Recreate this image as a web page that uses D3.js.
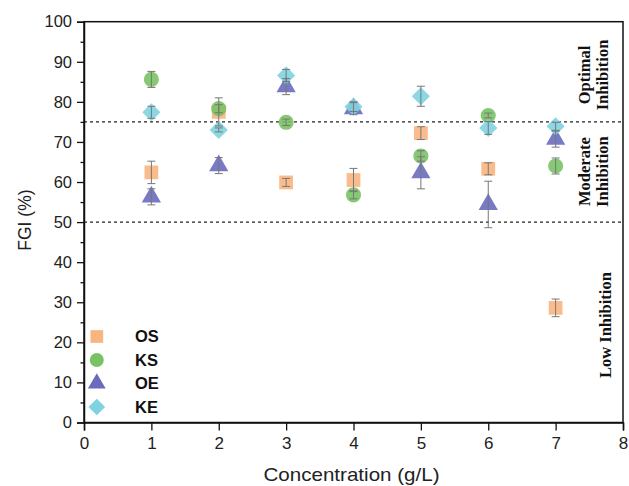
<!DOCTYPE html>
<html>
<head>
<meta charset="utf-8">
<script src="https://cdn.jsdelivr.net/npm/d3@7"></script>
<style>
body { margin: 0; background: #fff; }
svg { display: block; }
</style>
</head>
<body>
<svg id="chart" width="629" height="486"></svg>
<script>
const concentrations = [1, 2, 3, 4, 5, 6, 7];
const seriesNames = ["OS", "KS", "OE", "KE"];
const osValues = [62.4, 77.5, 59.9, 60.5, 72.2, 63.3, 28.6];
const osErrors = [2.8, 3.5, 1.0, 2.9, 1.6, 1.5, 2.2];
const ksValues = [85.6, 78.3, 74.9, 56.8, 66.5, 76.6, 64.0];
const ksErrors = [2.0, 1.0, 0.8, 1.0, 1.3, 0.6, 2.0];
const oeValues = [56.3, 64.1, 83.8, 78.3, 62.3, 54.4, 70.7];
const oeErrors = [2.0, 2.0, 2.0, 1.5, 4.0, 5.8, 2.0];
const keValues = [77.4, 73.0, 86.6, 78.8, 81.4, 73.5, 73.9];
const keErrors = [1.5, 0.5, 1.5, 1.2, 2.5, 1.6, 1.0];
const xTicks = [0, 1, 2, 3, 4, 5, 6, 7, 8];
const yTicks = [0, 10, 20, 30, 40, 50, 60, 70, 80, 90, 100];
const yMinorTicks = [5, 15, 25, 35, 45, 55, 65, 75, 85, 95];
const thresholds = [75, 50];
const zoneLabels = [
  { lines: ["Optimal", "Inhibition"], y: 86.7 },
  { lines: ["Moderate", "Inhibition"], y: 62.6 },
  { lines: ["Low Inhibition"], y: 24.3 }
];

const colors = { OS: "#F9B57F", KS: "#79C264", OE: "#6A6BBE", KE: "#7FD3E0" };
const sizes = { OS: 190, KS: 180, OE: 160, KE: 165 };

// diamond as a square rotated 45°
const diamondType = {
  draw(context, size) {
    const r = Math.sqrt(size / 2);
    context.moveTo(0, -r);
    context.lineTo(r, 0);
    context.lineTo(0, r);
    context.lineTo(-r, 0);
    context.closePath();
  }
};
const symbols = { OS: d3.symbolSquare, KS: d3.symbolCircle, OE: d3.symbolTriangle, KE: diamondType };

const data = {
  OS: { v: osValues, e: osErrors },
  KS: { v: ksValues, e: ksErrors },
  OE: { v: oeValues, e: oeErrors },
  KE: { v: keValues, e: keErrors }
};

const svg = d3.select("#chart");
const L = 84, R = 623, T = 21.7, B = 422.5;
const x = d3.scaleLinear().domain([0, 8]).range([L, R]);
const y = d3.scaleLinear().domain([0, 100]).range([B, T]);

const font = "'Liberation Sans', Arial, sans-serif";

// threshold dashed lines
svg.selectAll("line.thr").data(thresholds).enter().append("line")
  .attr("class", "thr")
  .attr("x1", L).attr("x2", R)
  .attr("y1", d => y(d)).attr("y2", d => y(d))
  .attr("stroke", "#222").attr("stroke-width", 1.4)
  .attr("stroke-dasharray", "3,3");

// markers
seriesNames.forEach(name => {
  const sym = d3.symbol().type(symbols[name]).size(sizes[name]);
  svg.append("g").selectAll("path").data(concentrations).enter().append("path")
    .attr("d", sym)
    .attr("transform", (c, i) => `translate(${x(c)},${y(data[name].v[i])})`)
    .attr("fill", colors[name])
    .attr("fill-opacity", 0.9);
});

// error bars
seriesNames.forEach(name => {
  const g = svg.append("g").attr("stroke", "#777").attr("stroke-width", 1);
  concentrations.forEach((c, i) => {
    const v = data[name].v[i], e = data[name].e[i];
    const cx = x(c);
    g.append("line").attr("x1", cx).attr("x2", cx).attr("y1", y(v - e)).attr("y2", y(v + e));
    [v - e, v + e].forEach(yy => {
      g.append("line").attr("x1", cx - 4).attr("x2", cx + 4).attr("y1", y(yy)).attr("y2", y(yy));
    });
  });
});

// frame
svg.append("rect").attr("x", L).attr("y", T).attr("width", R - L).attr("height", B - T)
  .attr("fill", "none").attr("stroke", "#111").attr("stroke-width", 1.5);

// axes
const xAxis = d3.axisBottom(x).tickValues(xTicks).tickFormat(d3.format("d")).tickSize(8).tickPadding(6);
const gx = svg.append("g").attr("transform", `translate(0,${B})`).call(xAxis);
gx.select(".domain").attr("stroke", "#111").attr("stroke-width", 1.5);
gx.selectAll(".tick line").attr("stroke", "#111").attr("stroke-width", 1.3);
gx.selectAll("text").attr("font-family", font).attr("font-size", 17).attr("fill", "#222");

const yAxis = d3.axisLeft(y).tickValues(yTicks).tickFormat(d3.format("d")).tickSize(7).tickPadding(5);
const gy = svg.append("g").attr("transform", `translate(${L},0)`).call(yAxis);
gy.select(".domain").attr("stroke", "#111").attr("stroke-width", 1.5);
gy.selectAll(".tick line").attr("stroke", "#111").attr("stroke-width", 1.3);
gy.selectAll("text").attr("font-family", font).attr("font-size", 16.5).attr("fill", "#222");

const yMinor = d3.axisLeft(y).tickValues(yMinorTicks).tickFormat("").tickSize(3.5);
const gym = svg.append("g").attr("transform", `translate(${L},0)`).call(yMinor);
gym.select(".domain").remove();
gym.selectAll(".tick line").attr("stroke", "#111").attr("stroke-width", 1.3);

// axis titles
svg.append("text").attr("x", (L + R) / 2 - 2).attr("y", 481)
  .attr("text-anchor", "middle").attr("font-family", font).attr("font-size", 19).attr("fill", "#222")
  .attr("textLength", 176).attr("lengthAdjust", "spacingAndGlyphs")
  .text("Concentration (g/L)");
svg.append("text").attr("transform", `translate(31,${(T + B) / 2 - 2}) rotate(-90)`)
  .attr("text-anchor", "middle").attr("font-family", font).attr("font-size", 17.5).attr("fill", "#222")
  .text("FGI (%)");

// zone labels
zoneLabels.forEach(z => {
  const n = z.lines.length;
  const t = svg.append("text")
    .attr("transform", `translate(${n === 2 ? 590 : 611},${y(z.y)}) rotate(-90)`)
    .attr("text-anchor", "middle")
    .attr("font-family", "'Liberation Serif', 'Times New Roman', serif")
    .attr("font-weight", "bold").attr("font-size", 16.5).attr("fill", "#111");
  z.lines.forEach((ln, i) => {
    t.append("tspan").attr("x", 0).attr("dy", i === 0 ? 0 : 18).text(ln);
  });
});

// legend
const legend = svg.append("g");
seriesNames.forEach((name, i) => {
  const ly = 336.5 + i * 23.5;
  legend.append("path")
    .attr("d", d3.symbol().type(symbols[name]).size(sizes[name] * 0.85)())
    .attr("transform", `translate(${x(0.19)},${ly})`)
    .attr("fill", colors[name]);
  legend.append("text").attr("x", 135).attr("y", ly).attr("dy", "0.36em")
    .attr("font-family", font).attr("font-weight", "bold").attr("font-size", 16.5).attr("fill", "#111")
    .text(name);
});
</script>
</body>
</html>
